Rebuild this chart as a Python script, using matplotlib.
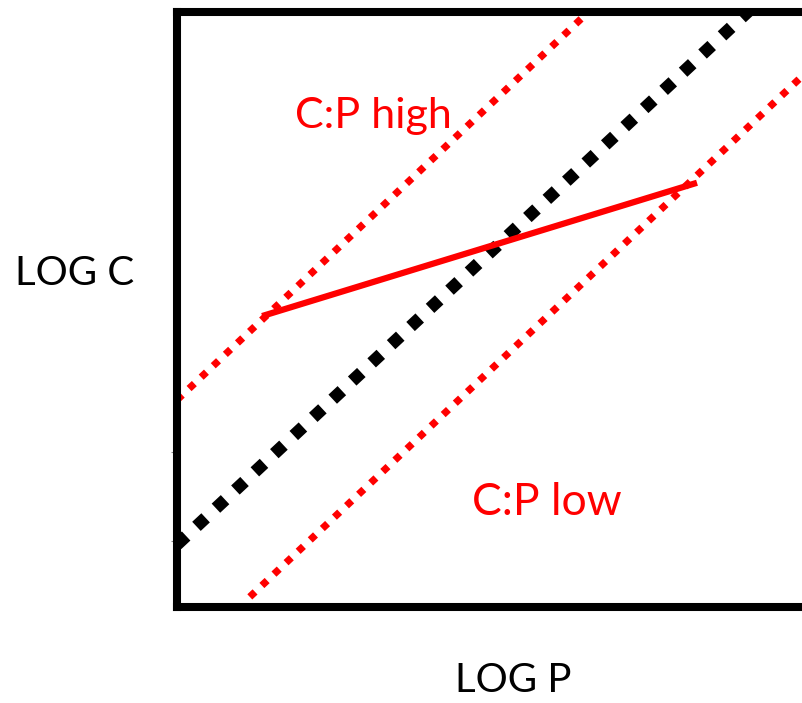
import matplotlib
matplotlib.use("Agg")
import matplotlib.pyplot as plt

# Conceptual C vs P diagram (arbitrary log units)
black_x = [0.0, 9.2]
black_y = [1.05, 10.43]

high_x = [0.0, 6.6]
high_y = [3.48, 10.28]

low_x = [1.12, 10.5]
low_y = [0.17, 9.83]

solid_x = [1.31, 8.0]
solid_y = [4.89, 7.13]

label_high = "C:P high"
label_low = "C:P low"
xlabel = "LOG P"
ylabel = "LOG C"

W, H = 802, 703
fig = plt.figure(figsize=(W / 100, H / 100), dpi=100)
plt.rcParams['font.family'] = ['Lato', 'DejaVu Sans']

left, right, bottom, top = 177, 827, 607, 12
ax = fig.add_axes([left / W, (H - bottom) / H, (right - left) / W, (bottom - top) / H])
ax.set_xlim(0, 10)
ax.set_ylim(0, 10)

ax.plot(black_x, black_y, color='black', lw=9, linestyle=(0, (1, 1.13)),
        dash_capstyle='butt', solid_capstyle='butt')
ax.plot(high_x, high_y, color='#ff0000', lw=5.2, linestyle=(0, (1, 1.3)),
        dash_capstyle='butt')
ax.plot(low_x, low_y, color='#ff0000', lw=5.2, linestyle=(0, (1, 1.3)),
        dash_capstyle='butt')
ax.plot(solid_x, solid_y, color='#ff0000', lw=4.5, solid_capstyle='butt')

ax.text(1.82, 8.05, label_high, color='#ff0000', fontsize=31, ha='left', va='baseline')
ax.text(4.54, 1.55, label_low, color='#ff0000', fontsize=32, ha='left', va='baseline')

for s in ax.spines.values():
    s.set_linewidth(5.8)
    s.set_color('black')
ax.spines['right'].set_visible(False)

ax.set_xticks([])
ax.set_yticks([1.11, 2.6])
ax.set_yticklabels([])
ax.tick_params(axis='y', length=4, width=0.8, color='#888888')

fig.text(15 / W, (H - 285) / H, ylabel, fontsize=29, ha='left', va='baseline')
fig.text(455 / W, (H - 692) / H, xlabel, fontsize=29, ha='left', va='baseline')

fig.savefig("out.png", dpi=100)
